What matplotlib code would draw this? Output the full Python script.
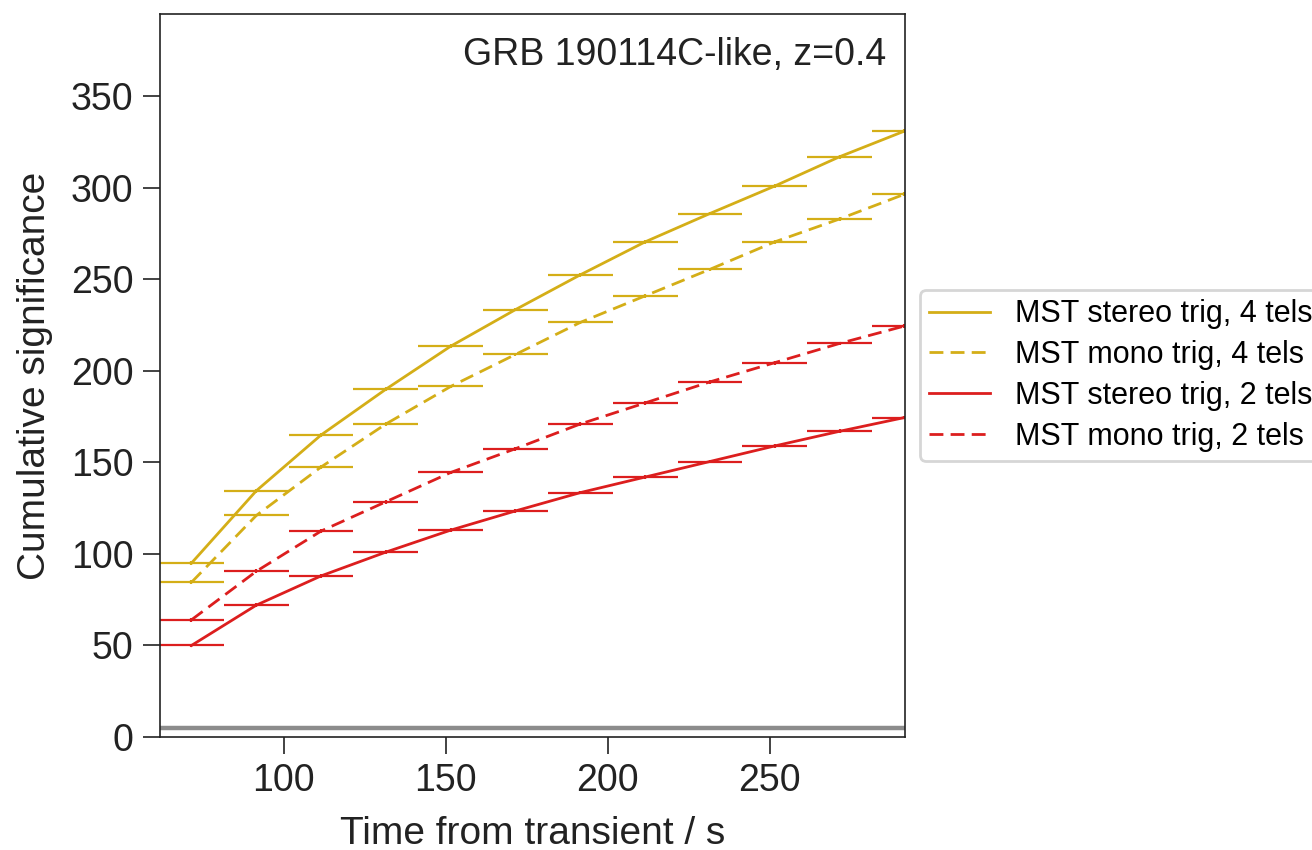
import matplotlib
matplotlib.use("Agg")
import matplotlib.pyplot as plt
import numpy as np

plt.rcParams['font.family'] = ['Liberation Sans', 'DejaVu Sans']

# time bin centres (s) and half widths
t = np.array([71.5, 91.5, 111.5, 131.5, 151.5, 171.5, 191.5, 211.5, 231.5, 251.5, 271.5, 291.5])
t_err = 10.

stereo4 = [95, 134.5, 165, 190, 213.5, 233.5, 252.5, 270.5, 286, 301, 317, 331]
mono4 = [84.5, 121, 147.5, 171, 191.5, 209, 226.5, 241, 255.5, 270.5, 283, 296.5]
stereo2 = [50, 72, 88, 101, 113, 123.5, 133.5, 142, 150.5, 159, 167, 174.5]
mono2 = [64, 90.5, 112.5, 128.5, 144.5, 157.5, 171, 182.5, 194, 204.5, 215, 224.5]
sig_err = 1.0

labels = ["MST stereo trig, 4 tels", "MST mono trig, 4 tels",
          "MST stereo trig, 2 tels", "MST mono trig, 2 tels"]
gold = '#d4ae17'
red = '#dc1e1e'

fig = plt.figure(figsize=(6.56, 4.25), dpi=200)
ax = fig.add_axes([0.122, 0.133, 0.568, 0.8505])

series = [(stereo4, gold, '-'), (mono4, gold, '--'),
          (stereo2, red, '-'), (mono2, red, '--')]

for (vals, c, ls), lab in zip(series, labels):
  ax.errorbar(t, vals, xerr=t_err, yerr=sig_err, fmt='none', ecolor=c, elinewidth=0.8, capsize=0)
  ln, = ax.plot(t, vals, color=c, ls=ls, lw=1.0, label=lab)
  if ls == '--':
    ln.set_dashes((5.0, 2.6))

# 5 sigma line
ax.axhline(5, color='#8c8c8c', lw=1.6)

ax.set_xlim(61.8, 291.8)
ax.set_ylim(0, 395)
ax.set_yticks(np.arange(0, 351, 50))
ax.set_xticks([100, 150, 200, 250])
ax.tick_params(labelsize=13.5, length=6, width=0.6, colors='#222222')
for s in ax.spines.values():
  s.set_linewidth(0.6)
  s.set_color('#222222')

ax.set_xlabel("Time from transient / s", fontsize=14, color='#222222', labelpad=6)
ax.set_ylabel("Cumulative significance", fontsize=14, color='#222222', labelpad=6.5)
ax.text(0.975, 0.968, "GRB 190114C-like, z=0.4", transform=ax.transAxes,
        ha='right', va='top', fontsize=13.5, color='#222222')

ax.legend(loc='center left', bbox_to_anchor=(1.02, 0.5), borderaxespad=0,
          fontsize=11, handlelength=2.0, labelspacing=0.35, borderpad=0.3)

fig.savefig("out.png", dpi=200)
